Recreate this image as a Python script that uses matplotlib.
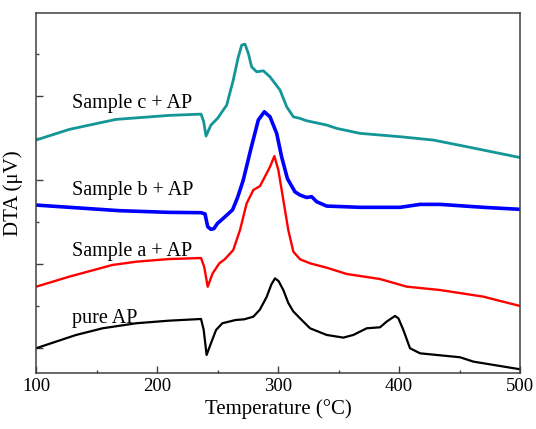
import matplotlib
matplotlib.use('Agg')
import matplotlib.pyplot as plt
from matplotlib.ticker import MultipleLocator

plt.rcParams['font.family'] = ['Liberation Serif', 'DejaVu Serif']

# pure AP
t_pure = [100, 116.5, 133, 155, 182.7, 210, 236.4, 238.6, 241, 244.6, 248.8, 254, 265, 272, 279.6, 285,
          290.7, 294.5, 297.5, 300.5, 304.4, 308.5, 312.6, 318.2, 326.5, 340.2, 354, 362.3, 373.3, 384.3,
          390, 396.7, 399.5, 403.6, 409.1, 417.4, 450.4, 461.5, 500]
v_pure = [0.0, 0.079, 0.158, 0.238, 0.298, 0.329, 0.349, 0.218, -0.08, 0.06, 0.218, 0.298, 0.337,
          0.345, 0.376, 0.46, 0.614, 0.76, 0.833, 0.80, 0.694, 0.54, 0.440, 0.357, 0.238, 0.159, 0.127,
          0.159, 0.238, 0.250, 0.32, 0.385, 0.357, 0.218, 0.0, -0.06, -0.107, -0.159, -0.250]

# Sample a + AP
t_a = [100, 127.5, 163, 182.7, 210, 236.4, 239, 241.9, 246, 251.5, 256, 263, 268.6, 274.1, 279.6,
       285.1, 290.6, 293.4, 297, 300.3, 304.4, 308.5, 312.7, 318.2, 326.5, 340.2, 356.8, 384.3, 406.4,
       433.9, 469.7, 500]
v_a = [0.733, 0.853, 0.992, 1.031, 1.063, 1.075, 0.971, 0.733, 0.893, 1.012, 1.06, 1.170, 1.408, 1.726,
       1.885, 1.932, 2.083, 2.162, 2.289, 2.123, 1.766, 1.408, 1.150, 1.06, 1.012, 0.960, 0.885, 0.825,
       0.734, 0.694, 0.615, 0.504]

# Sample b + AP
t_b = [100, 127.5, 168.9, 210, 236.4, 239.7, 241.9, 244.5, 247, 250, 254.8, 262.5, 266.7, 271.3, 277.5,
       283.7, 288.7, 293.4, 298.9, 303, 307.8, 314, 318.2, 323.7, 327.8, 332, 340.2, 367.8, 400.9, 417.4,
       433.9, 469.7, 500]
v_b = [1.706, 1.679, 1.639, 1.619, 1.615, 1.60, 1.448, 1.417, 1.425, 1.488, 1.548, 1.65, 1.80, 2.004,
       2.37, 2.718, 2.817, 2.757, 2.560, 2.28, 2.02, 1.864, 1.825, 1.796, 1.806, 1.745, 1.694, 1.679,
       1.679, 1.714, 1.714, 1.679, 1.655]

# Sample c + AP
t_c = [100, 127.5, 166, 210, 236.4, 238.6, 240.5, 244.6, 250, 257.6, 263, 267.2, 270, 272.7, 275.5,
       278.2, 282.4, 287.9, 293.4, 301.7, 307.2, 312.7, 318.2, 323.7, 340.2, 348.5, 367.8, 400.9, 428.4,
       456, 500]
v_c = [2.480, 2.607, 2.726, 2.774, 2.789, 2.698, 2.528, 2.659, 2.738, 2.896, 3.194, 3.471, 3.611, 3.623,
       3.512, 3.352, 3.293, 3.305, 3.233, 3.075, 2.876, 2.757, 2.738, 2.710, 2.659, 2.619, 2.560, 2.520,
       2.480, 2.401, 2.272]

labels = ['pure AP', 'Sample a + AP', 'Sample b + AP', 'Sample c + AP']
label_y = [0.357, 1.150, 1.885, 2.917]
colors = ['#000000', '#ff0000', '#0000ff', '#149696']
widths = [1.6, 1.7, 2.6, 2.0]

fig = plt.figure(figsize=(5.36, 4.29), dpi=100)
ax = fig.add_axes([36 / 536, 1 - 373.3 / 429, (520 - 36) / 536, (373.3 - 13.3) / 429])

series = [(t_pure, v_pure), (t_a, v_a), (t_b, v_b), (t_c, v_c)]
for (t, v), c, w in zip(series, colors, widths):
    ax.plot(t, v, color=c, linewidth=w, solid_joinstyle='round', solid_capstyle='round')

for lab, y in zip(labels, label_y):
    ax.text(130, y, lab, fontsize=14.5, va='center', ha='left')

ax.set_xlim(100, 500)
ax.set_ylim(-0.298, 3.99)
ax.xaxis.set_major_locator(MultipleLocator(100))
ax.xaxis.set_minor_locator(MultipleLocator(50))
ax.yaxis.set_major_locator(MultipleLocator(1))
ax.yaxis.set_minor_locator(MultipleLocator(0.5))
ax.tick_params(which='both', direction='in', color='#404040', labelsize=13.5)
ax.tick_params(which='major', length=5, width=1)
ax.tick_params(which='minor', length=2.5, width=1)
ax.tick_params(axis='y', labelleft=False)
for s in ax.spines.values():
    s.set_color('#404040')
    s.set_linewidth(1.1)

ax.set_xlabel('Temperature (°C)', fontsize=15, labelpad=3)
ax.set_ylabel('DTA (μV)', fontsize=15, labelpad=6)

fig.savefig('out.png', dpi=100)
